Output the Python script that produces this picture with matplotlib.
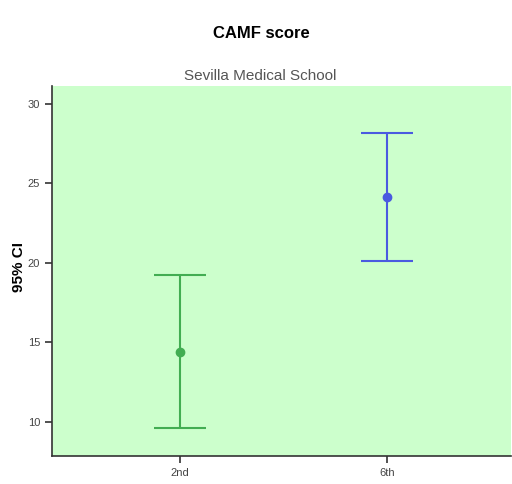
import matplotlib.pyplot as plt
import numpy as np

plt.rcParams['font.family'] = ['Liberation Sans', 'DejaVu Sans']

# data
groups = ['2nd', '6th']
means = [14.43, 24.15]
ci_low = [9.63, 20.1]
ci_high = [19.27, 28.2]
colors = ['#42ad52', '#4a5ae0']

fig = plt.figure(figsize=(5.12, 4.84), dpi=100)
ax = fig.add_axes([0.1016, 0.0579, 0.8965, 0.7644])
ax.set_facecolor('#ccffcc')

x = np.arange(len(groups))
for i in range(len(groups)):
    err = [[means[i] - ci_low[i]], [ci_high[i] - means[i]]]
    ax.errorbar(x[i], means[i], yerr=err, fmt='o', color=colors[i],
                ecolor=colors[i], elinewidth=1.5, capsize=19, capthick=1.5,
                markersize=6)

ax.set_xlim(-0.618, 1.6)
ax.set_ylim(7.86, 31.13)
ax.set_xticks(x)
ax.set_xticklabels(groups)
ax.set_yticks([10, 15, 20, 25, 30])

for s in ['top', 'right']:
    ax.spines[s].set_visible(False)
for s in ['left', 'bottom']:
    ax.spines[s].set_color('#333333')
    ax.spines[s].set_linewidth(1.2)
ax.tick_params(axis='both', labelsize=8, colors='#333333', length=5, width=1.2)
ax.tick_params(axis='both', labelcolor='#444444')

ax.set_ylabel('95% CI', fontsize=11, fontweight='bold')
ax.yaxis.set_label_coords(-0.056, 0.51)
ax.set_title('Sevilla Medical School', fontsize=11, color='#555555', pad=4, x=0.453)
fig.text(0.51, 0.93, 'CAMF score', ha='center', va='center', fontsize=12, fontweight='bold')

fig.savefig('out.png', dpi=100)
